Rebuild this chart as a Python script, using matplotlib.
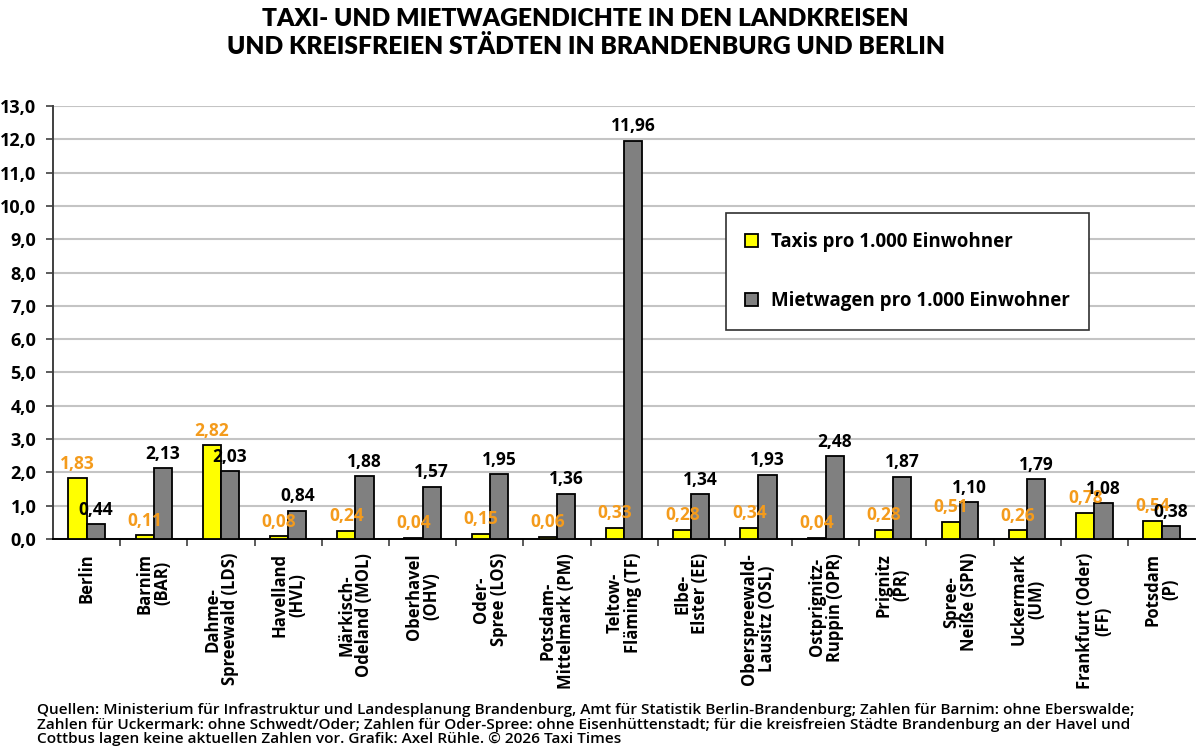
'''
Taxi- und Mietwagendichte in Brandenburg und Berlin als gruppiertes Balkendiagramm
'''
import matplotlib
matplotlib.use('Agg')
import matplotlib.pyplot as plt
from matplotlib.ticker import FixedLocator, FuncFormatter

plt.rcParams['font.family'] = ['Open Sans', 'DejaVu Sans']

regions = ['Berlin', 'Barnim\n(BAR)', 'Dahme-\nSpreewald (LDS)', 'Havelland\n(HVL)',
           'Märkisch-\nOdeland (MOL)', 'Oberhavel\n(OHV)', 'Oder-\nSpree (LOS)',
           'Potsdam-\nMittelmark (PM)', 'Teltow-\nFläming (TF)', 'Elbe-\nElster (EE)',
           'Oberspreewald-\nLausitz (OSL)', 'Ostprignitz-\nRuppin (OPR)', 'Prignitz\n(PR)',
           'Spree-\nNeiße (SPN)', 'Uckermark\n(UM)', 'Frankfurt (Oder)\n(FF)', 'Potsdam\n(P)']
taxis = [1.83, 0.11, 2.82, 0.08, 0.24, 0.04, 0.15, 0.06, 0.33,
         0.28, 0.34, 0.04, 0.28, 0.51, 0.26, 0.78, 0.54]
mietwagen = [0.44, 2.13, 2.03, 0.84, 1.88, 1.57, 1.95, 1.36, 11.96,
             1.34, 1.93, 2.48, 1.87, 1.10, 1.79, 1.08, 0.38]

title = 'TAXI- UND MIETWAGENDICHTE IN DEN LANDKREISEN\nUND KREISFREIEN STÄDTEN IN BRANDENBURG UND BERLIN'
footer = ('Quellen: Ministerium für Infrastruktur und Landesplanung Brandenburg, Amt für Statistik '
          'Berlin-Brandenburg; Zahlen für Barnim: ohne Eberswalde;\n'
          'Zahlen für Uckermark: ohne Schwedt/Oder; Zahlen für Oder-Spree: ohne Eisenhüttenstadt; '
          'für die kreisfreien Städte Brandenburg an der Havel und\n'
          'Cottbus lagen keine aktuellen Zahlen vor. Grafik: Axel Rühle. © 2026 Taxi Times')


def de(v, digits=2):
    return f'{v:.{digits}f}'.replace('.', ',')


fig = plt.figure(figsize=(12, 7.52), dpi=100)
ax = fig.add_axes([0.0442, 0.2832, 0.9518, 0.5758])

x = list(range(len(regions)))
w = 0.27
b1 = ax.bar([i - w / 2 for i in x], taxis, w, color='#FFFF00', edgecolor='black',
            linewidth=1.3, label='Taxis pro 1.000 Einwohner', zorder=3)
b2 = ax.bar([i + w / 2 for i in x], mietwagen, w, color='#808080', edgecolor='black',
            linewidth=1.3, label='Mietwagen pro 1.000 Einwohner', zorder=3)

ax.bar_label(b1, labels=[de(v) for v in taxis], padding=4, color='#F49B1C',
             fontsize=12.5, fontweight='bold', zorder=4)
ax.bar_label(b2, labels=[de(v) for v in mietwagen], padding=4, color='black',
             fontsize=12.5, fontweight='bold', zorder=4)

ax.set_xlim(-0.5, len(regions) - 0.5)
ax.set_ylim(0, 13)
ax.yaxis.set_major_locator(FixedLocator(range(0, 14)))
ax.yaxis.set_major_formatter(FuncFormatter(lambda v, p: de(v, 1)))
ax.grid(axis='y', color='#c4c4c4', linewidth=1.5, zorder=0)
ax.set_axisbelow(True)

ax.set_xticks(x)
ax.set_xticklabels(regions, rotation=90, ha='center', va='top', multialignment='center',
                   fontsize=12, fontweight='bold', linespacing=1.0)
ax.tick_params(axis='x', length=0, pad=10)
ax.set_xticks([i + 0.5 for i in x[:-1]], minor=True)
ax.tick_params(axis='x', which='minor', length=5, color='#404040', width=1.2)
ax.tick_params(axis='y', length=5, color='#404040', width=1.2, labelsize=13, pad=7)
for lab in ax.get_yticklabels():
    lab.set_fontweight('bold')

for s in ['top', 'right']:
    ax.spines[s].set_visible(False)
ax.spines['left'].set_color('#404040')
ax.spines['left'].set_linewidth(1.4)
ax.spines['bottom'].set_color('black')
ax.spines['bottom'].set_linewidth(1.4)

leg = ax.legend(loc='upper left', bbox_to_anchor=(726 / 1200, 1 - 213 / 752),
                bbox_transform=fig.transFigure, borderaxespad=0, labelspacing=2.1,
                handlelength=0.7, handleheight=0.7, handletextpad=0.7,
                borderpad=1.0, fancybox=False, framealpha=1,
                prop={'weight': 'bold', 'size': 13.5})
leg.get_frame().set_edgecolor('#303030')
leg.get_frame().set_linewidth(1.2)

fig.text(0.488, 0.989, title, ha='center', va='top', fontsize=17.7, fontweight='heavy',
         family=['Lato', 'DejaVu Sans'], linespacing=1.25)
fig.text(0.031, 0.008, footer, ha='left', va='bottom', fontsize=11.1, fontweight='semibold',
         linespacing=1.02)

fig.savefig('out.png', dpi=100, facecolor='white')
